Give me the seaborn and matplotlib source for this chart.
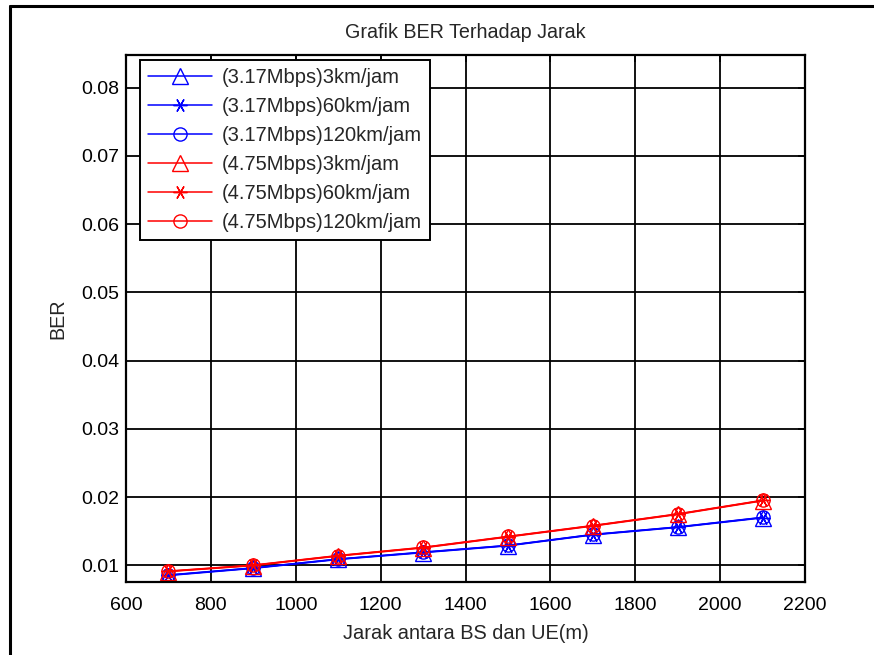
import matplotlib
matplotlib.use("Agg")
import matplotlib.pyplot as plt
from matplotlib.lines import Line2D
import seaborn as sns
import pandas as pd

# Distance between base station and UE (m)
jarak = [700, 900, 1100, 1300, 1500, 1700, 1900, 2100]

# BER for 3.17 Mbps at three UE speeds
ber_317_3 = [0.00850, 0.00955, 0.01085, 0.01185, 0.01285, 0.01445, 0.01555, 0.01695]
ber_317_60 = [0.00855, 0.00960, 0.01090, 0.01190, 0.01290, 0.01450, 0.01560, 0.01700]
ber_317_120 = [0.00858, 0.00962, 0.01092, 0.01193, 0.01292, 0.01452, 0.01562, 0.01703]

# BER for 4.75 Mbps at three UE speeds
ber_475_3 = [0.00908, 0.00995, 0.01135, 0.01255, 0.01415, 0.01575, 0.01745, 0.01945]
ber_475_60 = [0.00912, 0.01000, 0.01140, 0.01260, 0.01420, 0.01580, 0.01750, 0.01950]
ber_475_120 = [0.00915, 0.01003, 0.01143, 0.01263, 0.01423, 0.01583, 0.01753, 0.01953]

labels = [
    "(3.17Mbps)3km/jam", "(3.17Mbps)60km/jam", "(3.17Mbps)120km/jam",
    "(4.75Mbps)3km/jam", "(4.75Mbps)60km/jam", "(4.75Mbps)120km/jam",
]
x_ticks = [600, 800, 1000, 1200, 1400, 1600, 1800, 2000, 2200]
y_ticks = [0.01, 0.02, 0.03, 0.04, 0.05, 0.06, 0.07, 0.08]

series = [ber_317_3, ber_317_60, ber_317_120, ber_475_3, ber_475_60, ber_475_120]
colors = ["#0000ff"] * 3 + ["#ff0000"] * 3
markers = ["^", (6, 2, 90), "o"] * 2
msizes = [11, 10, 9.5] * 2

sns.set_style("white")
plt.rcParams["font.family"] = ["Liberation Sans", "DejaVu Sans"]
plt.rcParams["font.size"] = 14

fig = plt.figure(figsize=(8.74, 6.55), dpi=100)
ax = fig.add_axes([126 / 874, 1 - 582 / 655, (805 - 126) / 874, (582 - 55) / 655])

for vals, lab, col, mk, ms in zip(series, labels, colors, markers, msizes):
    df = pd.DataFrame({"jarak": jarak, "ber": vals})
    sns.lineplot(
        data=df, x="jarak", y="ber", ax=ax, label=lab, color=col,
        marker=mk, markersize=ms, markerfacecolor="none",
        markeredgecolor=col, markeredgewidth=1.0, linewidth=1.1,
    )

ax.set_xlim(600, 2200)
ax.set_ylim(0.00755, 0.0848)
ax.set_xticks(x_ticks)
ax.set_xticklabels([str(t) for t in x_ticks])
ax.set_yticks(y_ticks)
ax.set_yticklabels([f"{t:g}" for t in y_ticks])
ax.tick_params(direction="in", length=5, width=1.2, top=True, right=True,
               labelsize=14, colors="black")
ax.tick_params(axis="x", pad=11)
ax.tick_params(axis="y", pad=5)
ax.grid(True, color="black", linestyle="-", linewidth=1.3)
ax.set_axisbelow(True)
for sp in ax.spines.values():
    sp.set_visible(True)
    sp.set_color("black")
    sp.set_linewidth(1.6)

ax.set_title("Grafik BER Terhadap Jarak", fontsize=14.2, pad=12)
ax.set_xlabel("Jarak antara BS dan UE(m)", fontsize=14.4, labelpad=7)
ax.set_ylabel("BER", fontsize=14.2, labelpad=10)

leg = ax.legend(
    loc="upper left", bbox_to_anchor=(0.0206, 0.9905), borderaxespad=0,
    fontsize=14.5, frameon=True, fancybox=False, handlelength=3.2,
    handletextpad=0.45, labelspacing=0.5, borderpad=0.4,
)
leg.get_frame().set_edgecolor("black")
leg.get_frame().set_linewidth(1.4)
leg.get_frame().set_alpha(1)

# page frame along the left and top edges
fig.add_artist(Line2D([10 / 874, 10 / 874], [0, 1 - 6 / 655], color="black",
                      linewidth=2.2, transform=fig.transFigure))
fig.add_artist(Line2D([10 / 874, 1], [1 - 6 / 655, 1 - 6 / 655], color="black",
                      linewidth=2.2, transform=fig.transFigure))

fig.savefig("out.png", dpi=100)
